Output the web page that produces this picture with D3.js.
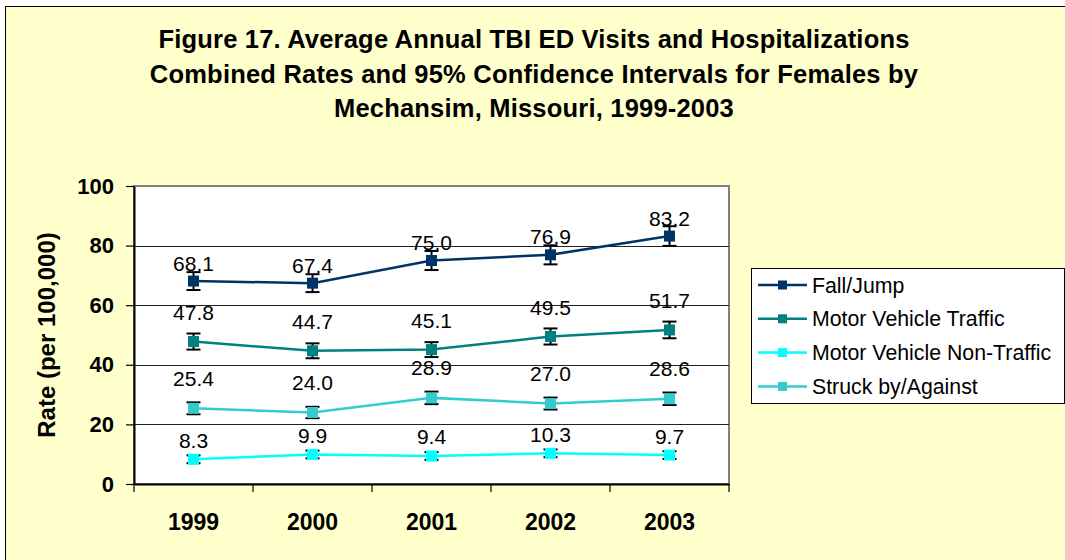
<!DOCTYPE html>
<html>
<head>
<meta charset="utf-8">
<script src="https://cdn.jsdelivr.net/npm/d3@7"></script>
<style>
  body { margin: 0; background: #ffffff; }
  #my_chart { width: 1065px; height: 560px; }
  text { font-family: "Liberation Sans", Arial, sans-serif; }
</style>
</head>
<body>
<div id="my_chart"></div>
<script>
// data
const years = ["1999", "2000", "2001", "2002", "2003"];
const seriesNames = ["Fall/Jump", "Motor Vehicle Traffic", "Motor Vehicle Non-Traffic", "Struck by/Against"];

const fallJump     = [68.1, 67.4, 75.0, 76.9, 83.2];
const fallJumpLow  = [65.1, 64.4, 71.8, 73.7, 79.9];
const fallJumpHigh = [71.1, 70.4, 78.2, 80.1, 86.5];

const mvTraffic     = [47.8, 44.7, 45.1, 49.5, 51.7];
const mvTrafficLow  = [45.1, 42.2, 42.6, 46.8, 48.9];
const mvTrafficHigh = [50.5, 47.2, 47.6, 52.2, 54.5];

const mvNonTraffic     = [8.3, 9.9, 9.4, 10.3, 9.7];
const mvNonTrafficLow  = [7.0, 8.6, 8.1, 9.0, 8.4];
const mvNonTrafficHigh = [9.6, 11.2, 10.7, 11.6, 11.0];

const struck     = [25.4, 24.0, 28.9, 27.0, 28.6];
const struckLow  = [23.4, 22.1, 26.8, 25.0, 26.5];
const struckHigh = [27.4, 25.9, 31.0, 29.0, 30.7];

const yTicks = [0, 20, 40, 60, 80, 100];

const titleLines = [
  "Figure 17. Average Annual TBI ED Visits and Hospitalizations",
  "Combined Rates and 95% Confidence Intervals for Females by",
  "Mechansim, Missouri, 1999-2003"
];

function draw_chart() {
  const W = 1065, H = 560;
  // plot area
  const plot = {left: 134, top: 186, right: 729, bottom: 484};

  const svg = d3.select("#my_chart")
    .append("svg")
      .attr("width", W)
      .attr("height", H);

  // chart background + border (runs off the right/bottom edge like the original)
  svg.append("rect")
    .attr("x", 5.5).attr("y", 6.5)
    .attr("width", W + 20).attr("height", H + 20)
    .attr("fill", "#FFFFCC")
    .attr("stroke", "#000")
    .attr("stroke-width", 1);

  // title
  svg.append("g")
    .selectAll("text")
    .data(titleLines)
    .join("text")
      .attr("x", 534)
      .attr("y", (d, i) => 48 + i * 34.5)
      .attr("text-anchor", "middle")
      .style("font-size", "25.5px")
      .style("letter-spacing", "0.2px")
      .style("font-weight", "bold")
      .text(d => d);

  const series = [
    {name: seriesNames[0], values: fallJump, low: fallJumpLow, high: fallJumpHigh, color: "#003366", labelOff: 18},
    {name: seriesNames[1], values: mvTraffic, low: mvTrafficLow, high: mvTrafficHigh, color: "#008080", labelOff: 29},
    {name: seriesNames[2], values: mvNonTraffic, low: mvNonTrafficLow, high: mvNonTrafficHigh, color: "#00FFFF", labelOff: 19},
    {name: seriesNames[3], values: struck, low: struckLow, high: struckHigh, color: "#33CCCC", labelOff: 30}
  ];

  const x = d3.scaleBand()
    .domain(years)
    .range([plot.left, plot.right])
    .padding(0);

  const y = d3.scaleLinear()
    .domain([0, 100])
    .range([plot.bottom, plot.top]);

  // plot area background
  svg.append("rect")
    .attr("x", plot.left).attr("y", plot.top)
    .attr("width", plot.right - plot.left)
    .attr("height", plot.bottom - plot.top)
    .attr("fill", "#ffffff")
    .attr("stroke", "#808080")
    .attr("stroke-width", 2);

  // gridlines
  svg.append("g")
    .selectAll("line")
    .data(yTicks.filter(d => d > 0 && d < 100))
    .join("line")
      .attr("x1", plot.left).attr("x2", plot.right)
      .attr("y1", d => Math.round(y(d)) + 0.5)
      .attr("y2", d => Math.round(y(d)) + 0.5)
      .attr("stroke", "#222")
      .attr("stroke-width", 1);

  // y axis
  const yAxis = svg.append("g")
    .attr("transform", `translate(${plot.left}, 0)`)
    .call(d3.axisLeft(y).tickValues(yTicks).tickSize(8).tickPadding(12).tickSizeOuter(0));
  yAxis.select(".domain").attr("stroke", "#000").attr("stroke-width", 2);
  yAxis.selectAll(".tick line").attr("stroke", "#000").attr("stroke-width", 1.2);
  yAxis.selectAll("text")
    .style("font-size", "22px")
    .style("font-weight", "bold")
    .style("font-family", "Liberation Sans, Arial, sans-serif")
    .attr("fill", "#000");

  // x axis: labels at category centers, ticks at category boundaries
  const xAxis = svg.append("g")
    .attr("transform", `translate(0, ${plot.bottom})`)
    .call(d3.axisBottom(x).tickSize(0).tickPadding(30));
  xAxis.select(".domain").attr("stroke", "#000").attr("stroke-width", 2);
  xAxis.selectAll("text")
    .style("font-size", "23px")
    .style("font-weight", "bold")
    .style("font-family", "Liberation Sans, Arial, sans-serif")
    .attr("fill", "#000");

  const bounds = years.map(d => x(d)).concat([x(years[years.length - 1]) + x.bandwidth()]);
  svg.append("g")
    .selectAll("line")
    .data(bounds)
    .join("line")
      .attr("x1", d => d).attr("x2", d => d)
      .attr("y1", plot.bottom).attr("y2", plot.bottom + 8)
      .attr("stroke", "#000")
      .attr("stroke-width", 1.2);

  // y axis title
  svg.append("text")
    .attr("transform", `translate(55, ${(plot.top + plot.bottom) / 2}) rotate(-90)`)
    .attr("text-anchor", "middle")
    .style("font-size", "24px")
    .style("font-weight", "bold")
    .text("Rate (per 100,000)");

  const cx = d => x(d) + x.bandwidth() / 2;

  const line = d3.line()
    .x((d, i) => cx(years[i]))
    .y(d => y(d));

  // series
  series.forEach(s => {
    const g = svg.append("g");

    g.append("path")
      .attr("d", line(s.values))
      .attr("fill", "none")
      .attr("stroke", s.color)
      .attr("stroke-width", 2.5);

    // error bars
    const eb = g.selectAll(".eb")
      .data(years)
      .join("g");
    eb.append("line")
      .attr("x1", d => cx(d)).attr("x2", d => cx(d))
      .attr("y1", (d, i) => y(s.low[i])).attr("y2", (d, i) => y(s.high[i]))
      .attr("stroke", "#000").attr("stroke-width", 2);
    eb.append("line")
      .attr("x1", d => cx(d) - 7).attr("x2", d => cx(d) + 7)
      .attr("y1", (d, i) => y(s.low[i])).attr("y2", (d, i) => y(s.low[i]))
      .attr("stroke", "#000").attr("stroke-width", 2);
    eb.append("line")
      .attr("x1", d => cx(d) - 7).attr("x2", d => cx(d) + 7)
      .attr("y1", (d, i) => y(s.high[i])).attr("y2", (d, i) => y(s.high[i]))
      .attr("stroke", "#000").attr("stroke-width", 2);

    // markers
    g.selectAll("rect")
      .data(s.values)
      .join("rect")
        .attr("x", (d, i) => cx(years[i]) - 5.5)
        .attr("y", d => y(d) - 5.5)
        .attr("width", 11).attr("height", 11)
        .attr("fill", s.color);

    // value labels
    g.selectAll("text")
      .data(s.values)
      .join("text")
        .attr("x", (d, i) => cx(years[i]))
        .attr("y", d => y(d) - s.labelOff + 7.5)
        .attr("text-anchor", "middle")
        .style("font-size", "21px")
        .text(d => d.toFixed(1));
  });

  // legend
  const leg = {x: 751, y: 268, w: 313, h: 135};
  svg.append("rect")
    .attr("x", leg.x + 0.5).attr("y", leg.y + 0.5)
    .attr("width", leg.w).attr("height", leg.h)
    .attr("fill", "#ffffff")
    .attr("stroke", "#000")
    .attr("stroke-width", 1);

  const items = svg.append("g")
    .selectAll("g")
    .data(series)
    .join("g")
      .attr("transform", (d, i) => `translate(${leg.x}, ${285 + i * 33.8})`);
  items.append("line")
    .attr("x1", 7).attr("x2", 56)
    .attr("y1", 0).attr("y2", 0)
    .attr("stroke", d => d.color)
    .attr("stroke-width", 2.5);
  items.append("rect")
    .attr("x", 27).attr("y", -4.5)
    .attr("width", 9).attr("height", 9)
    .attr("fill", d => d.color);
  items.append("text")
    .attr("x", 61)
    .attr("y", 7.5)
    .style("font-size", "21.3px")
    .text(d => d.name);
}

draw_chart();
</script>
</body>
</html>
